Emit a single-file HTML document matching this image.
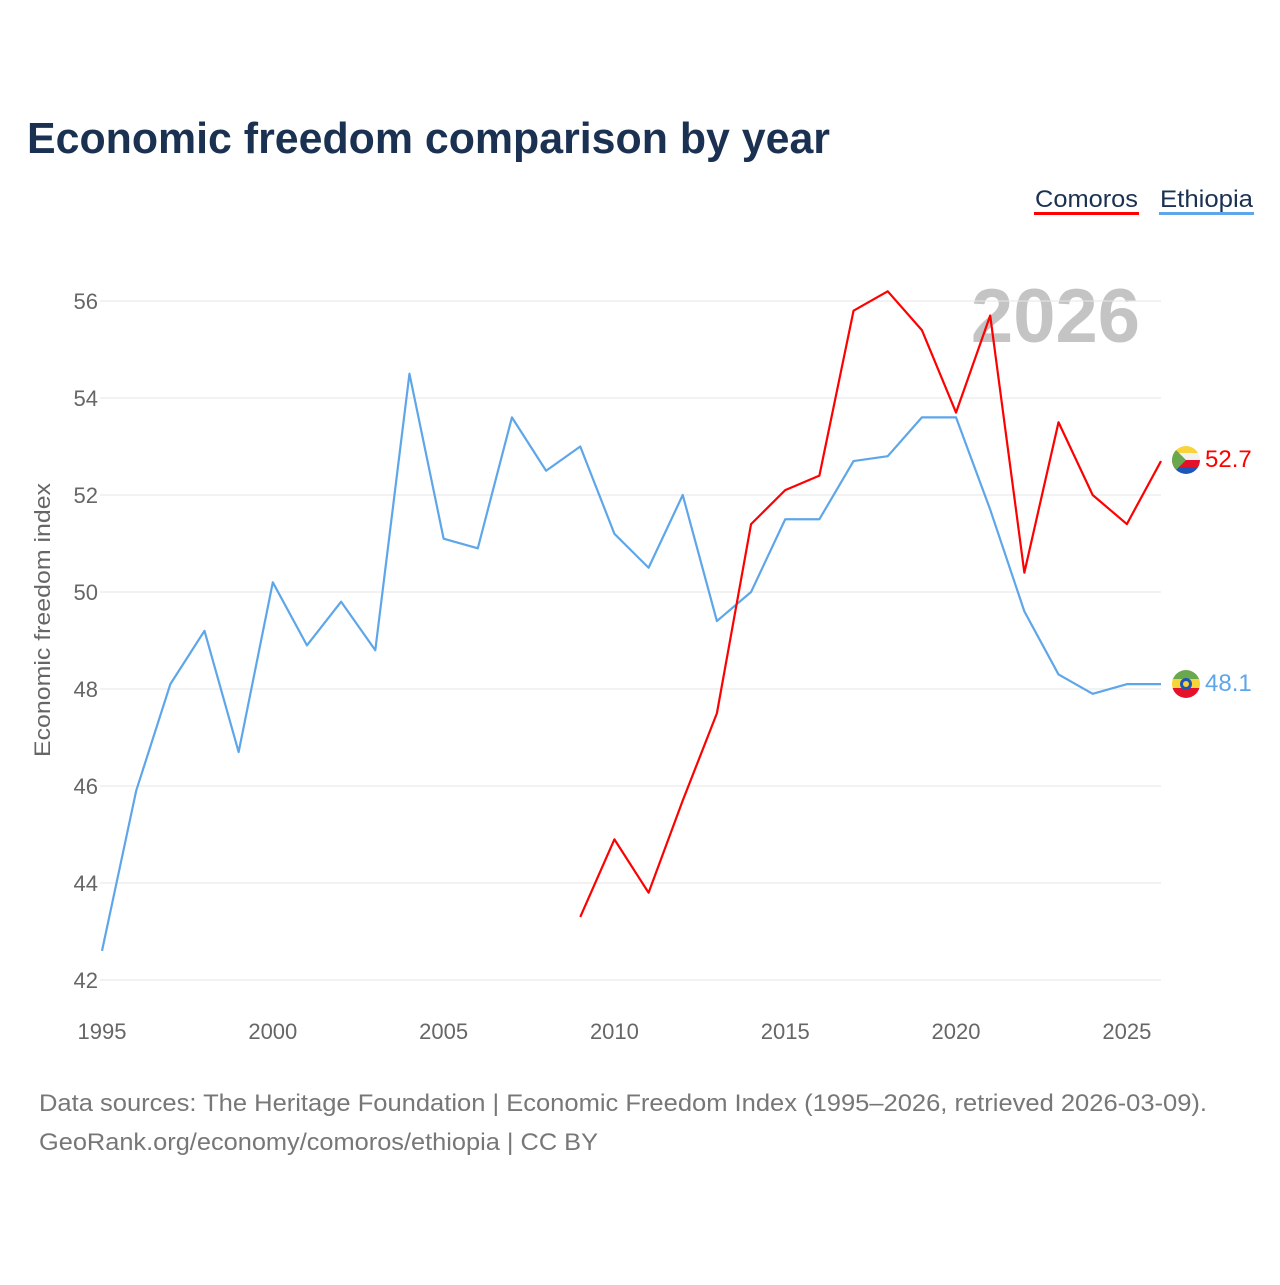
<!DOCTYPE html>
<html><head><meta charset="utf-8">
<style>
body{margin:0;background:#fff;font-family:"Liberation Sans",sans-serif;}
svg text{font-family:"Liberation Sans",sans-serif;}
</style></head>
<body>
<svg id="chart" width="1280" height="1280" viewBox="0 0 1280 1280">
<defs>
<clipPath id="cf1"><circle cx="1186" cy="460" r="14"/></clipPath>
<clipPath id="cf2"><circle cx="1186" cy="684" r="14"/></clipPath>
</defs>
<text x="27" y="153" font-size="44" font-weight="bold" fill="#1b3152" textLength="803" lengthAdjust="spacingAndGlyphs">Economic freedom comparison by year</text>
<g>
<text x="1035" y="207" font-size="24" fill="#1b3152" textLength="103" lengthAdjust="spacingAndGlyphs">Comoros</text>
<rect x="1034" y="212" width="105" height="3" fill="#ff0000"/>
</g>
<g>
<text x="1160" y="207" font-size="24" fill="#1b3152" textLength="93" lengthAdjust="spacingAndGlyphs">Ethiopia</text>
<rect x="1159" y="212" width="95" height="3" fill="#5ea6ea"/>
</g>
<text x="1140" y="342" font-size="76" font-weight="bold" fill="#c4c4c4" text-anchor="end">2026</text>
<g id="grid"></g>
<g id="xaxis"></g>
<text transform="translate(50,620) rotate(-90)" font-size="22" fill="#666" text-anchor="middle" textLength="274" lengthAdjust="spacingAndGlyphs">Economic freedom index</text>
<g id="series"></g>
<g clip-path="url(#cf1)">
<rect x="1172" y="446" width="28" height="7" fill="#f8d33a"/>
<rect x="1172" y="453" width="28" height="7" fill="#f2f2f2"/>
<rect x="1172" y="460" width="28" height="7" fill="#e5112b"/>
<rect x="1172" y="467" width="28" height="7" fill="#1e56b8"/>
<polygon points="1172,446 1186,460 1172,474" fill="#6aa84f"/>
</g>
<g clip-path="url(#cf2)">
<rect x="1172" y="670" width="28" height="10" fill="#6aa84f"/>
<rect x="1172" y="679" width="28" height="10" fill="#f8d33a"/>
<rect x="1172" y="688" width="28" height="10" fill="#e5112b"/>
<circle cx="1186" cy="684" r="6" fill="#1e56b8"/>
<circle cx="1186" cy="684" r="3" fill="#f8d33a"/>
</g>
<text x="1205" y="467" font-size="24" fill="#ff0000">52.7</text>
<text x="1205" y="691" font-size="24" fill="#5ea6ea">48.1</text>
<text x="39" y="1111" font-size="24" fill="#777" textLength="1168" lengthAdjust="spacingAndGlyphs">Data sources: The Heritage Foundation | Economic Freedom Index (1995–2026, retrieved 2026-03-09).</text>
<text x="39" y="1150" font-size="24" fill="#777" textLength="559" lengthAdjust="spacingAndGlyphs">GeoRank.org/economy/comoros/ethiopia | CC BY</text>
</svg>
<script>
const yTicks=[42,44,46,48,50,52,54,56];
const xTicks=[1995,2000,2005,2010,2015,2020,2025];
const ethYears=[1995,1996,1997,1998,1999,2000,2001,2002,2003,2004,2005,2006,2007,2008,2009,2010,2011,2012,2013,2014,2015,2016,2017,2018,2019,2020,2021,2022,2023,2024,2025,2026];
const ethValues=[42.6,45.9,48.1,49.2,46.7,50.2,48.9,49.8,48.8,54.5,51.1,50.9,53.6,52.5,53.0,51.2,50.5,52.0,49.4,50.0,51.5,51.5,52.7,52.8,53.6,53.6,51.7,49.6,48.3,47.9,48.1,48.1];
const comYears=[2009,2010,2011,2012,2013,2014,2015,2016,2017,2018,2019,2020,2021,2022,2023,2024,2025,2026];
const comValues=[43.3,44.9,43.8,45.7,47.5,51.4,52.1,52.4,55.8,56.2,55.4,53.7,55.7,50.4,53.5,52.0,51.4,52.7];
const NS="http://www.w3.org/2000/svg";
const xS=y=>102+(y-1995)*(1161-102)/31;
const yS=v=>980-(v-42)*(980-301)/14;
const grid=document.getElementById('grid');
yTicks.forEach(t=>{
 const l=document.createElementNS(NS,'line');
 
 
 l.setAttribute('x1',100);l.setAttribute('x2',1161);
 l.setAttribute('y1',yS(t));l.setAttribute('y2',yS(t));
 l.setAttribute('stroke','#e6e6e6');l.setAttribute('stroke-width','1');
 grid.appendChild(l);
 const tx=document.createElementNS(NS,'text');
 
 
 tx.setAttribute('x',98);tx.setAttribute('y',yS(t)+8);
 tx.setAttribute('text-anchor','end');tx.setAttribute('font-size','22');tx.setAttribute('fill','#666');
 tx.textContent=t;grid.appendChild(tx);
});
const xa=document.getElementById('xaxis');
xTicks.forEach(t=>{
 const tx=document.createElementNS(NS,'text');
 
 
 tx.setAttribute('x',xS(t));tx.setAttribute('y',1039);
 tx.setAttribute('text-anchor','middle');tx.setAttribute('font-size','22');tx.setAttribute('fill','#666');
 tx.textContent=t;xa.appendChild(tx);
});
const sg=document.getElementById('series');
function line(years,vals,color,name){
 const p=document.createElementNS(NS,'polyline');
 
 
 p.setAttribute('points',years.map((y,i)=>xS(y)+','+yS(vals[i])).join(' '));
 p.setAttribute('fill','none');p.setAttribute('stroke',color);p.setAttribute('stroke-width','2.2');
 p.setAttribute('stroke-linejoin','round');
 sg.appendChild(p);
}
line(ethYears,ethValues,'#5ea6ea','ethiopia-line');
line(comYears,comValues,'#ff0000','comoros-line');
</script>
</body></html>
